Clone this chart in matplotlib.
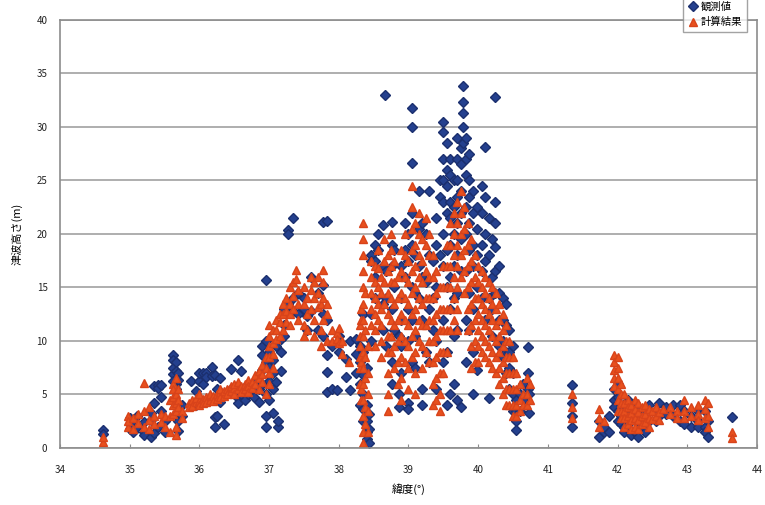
import matplotlib
matplotlib.use("Agg")
import matplotlib.pyplot as plt
import numpy as np

plt.rcParams["font.family"] = ["Noto Sans CJK JP", "DejaVu Sans"]

# observed run-up heights: (latitude, [heights in m]) per survey column
obs_south = [
    (34.62, [1.7, 1.3]), (35.00, [2.8, 2.2, 1.8]), (35.05, [2.5, 1.5]),
    (35.10, [2.0, 3.0]), (35.20, [1.5, 2.4, 1.2]), (35.30, [2.6, 1.0, 3.3]),
    (35.35, [5.8, 4.2, 1.4]), (35.40, [5.9, 5.6, 2.0]), (35.45, [5.9, 4.8, 3.5]),
    (35.50, [2.5, 1.5]), (35.62, [8.7, 8.2, 7.5, 6.9, 6.3]),
    (35.66, [8.0, 7.2, 6.0, 5.5]), (35.70, [7.0, 6.4, 2.5, 1.6]),
    (35.75, [4.0, 3.0]), (35.88, [6.3]), (35.95, [5.3, 4.0]),
    (36.00, [6.3, 7.0]), (36.05, [7.0, 6.0]), (36.10, [7.0, 6.6]),
    (36.18, [7.6, 6.7]), (36.22, [6.8, 2.9, 2.0]), (36.25, [5.5, 3.0]),
    (36.30, [6.5, 4.3]), (36.35, [2.2, 5.0]), (36.45, [7.4, 5.5]),
    (36.55, [8.2, 4.7, 4.2]), (36.60, [5.0, 7.2]), (36.65, [4.5]),
    (36.70, [5.0, 6.0]), (36.78, [4.8, 6.2]), (36.85, [6.8, 5.5, 4.3]),
    (36.90, [9.5, 8.7, 7.3, 6.0]), (36.95, [15.7, 10.0, 8.0, 5.0, 3.0, 2.0]),
    (37.00, [9.0, 7.6, 6.3, 4.5]), (37.05, [8.2, 7.0, 5.5, 3.3]),
    (37.10, [9.5, 6.2]), (37.13, [2.0, 2.5]), (37.17, [10.2, 9.0, 7.2]),
    (37.22, [13.0, 11.5, 10.5]), (37.27, [20.4, 20.0, 13.5]),
    (37.35, [21.5, 14.0, 12.8]), (37.42, [14.5, 12.5]), (37.50, [14.0, 13.0]),
    (37.55, [12.3, 11.0]), (37.60, [12.8, 16.0]), (37.70, [14.5, 11.0]),
    (37.78, [21.1, 15.2, 12.5, 10.5]), (37.83, [21.2, 12.0, 8.7, 7.1, 5.2]),
    (37.90, [9.5, 5.5]),
]

obs_miyagi = [
    (37.97, [5.4]), (38.00, [10.5, 9.0]), (38.10, [8.3, 6.6]),
    (38.16, [5.4, 10.0]), (38.25, [10.2, 8.8, 7.0]), (38.30, [9.5, 8.0, 6.0, 4.0]),
    (38.35, [12.5, 9.0, 6.8, 5.0, 3.6, 2.5]), (38.40, [7.5, 4.0, 2.5, 1.5, 0.8]),
    (38.43, [3.2, 1.8, 0.5]), (38.47, [18.0, 17.5, 12.5, 10.0]),
    (38.52, [19.0, 17.5, 16.0, 14.0]), (38.56, [18.5, 20.0]),
    (38.63, [20.8, 17.0, 13.5, 11.0]), (38.66, [33.0]), (38.68, [16.5, 14.0, 9.5]),
    (38.76, [21.1, 19.0, 17.0, 13.0, 8.0, 6.0]), (38.80, [18.5, 15.0, 11.0]),
    (38.86, [10.5, 5.0, 3.8]), (38.90, [17.0, 14.0, 12.0, 9.5, 7.0]),
    (38.95, [21.0, 18.5, 16.0]), (39.00, [20.0, 17.5, 13.0, 10.0, 4.2, 3.6]),
    (39.05, [31.8, 30.0, 26.6, 22.0, 19.0, 15.0, 12.0, 8.0]),
    (39.10, [18.0, 14.5, 10.5, 7.5]), (39.15, [24.0, 20.5, 17.0, 14.0]),
    (39.20, [21.0, 16.0, 12.0, 5.5, 4.0]), (39.25, [20.0, 15.5, 9.0]),
    (39.30, [24.0, 18.0, 13.0, 8.0]),
]

obs_iwate = [
    (39.35, [17.5, 14.0, 11.0]), (39.40, [21.5, 19.0, 15.0, 10.0, 5.5]),
    (39.45, [25.0, 23.5, 18.0]),
    (39.50, [30.5, 29.5, 27.0, 25.0, 23.0, 20.0, 17.0, 12.0, 8.0]),
    (39.55, [28.5, 26.0, 24.5, 22.0, 18.5, 15.0, 9.0, 4.0]),
    (39.60, [27.0, 25.5, 23.0, 21.5, 19.0, 16.0, 13.0, 5.0]),
    (39.65, [25.0, 22.5, 20.0, 17.0, 14.0, 10.5, 6.0]),
    (39.70, [29.0, 27.0, 25.0, 23.5, 21.0, 18.0, 14.5, 11.0, 4.5]),
    (39.75, [28.0, 26.5, 24.0, 22.0, 19.5, 16.5, 3.8]),
    (39.78, [33.8, 32.3, 31.3, 30.0, 28.5]),
    (39.82, [29.0, 27.0, 25.5, 22.5, 20.0, 16.5, 12.0, 8.0]),
    (39.87, [27.5, 25.0, 23.5, 21.0, 18.5, 14.5, 11.0]),
    (39.92, [24.0, 22.0, 19.0, 17.0, 13.0, 9.0, 5.0]),
    (39.99, [22.5, 20.5, 18.0, 15.0, 7.3]), (40.05, [24.5, 22.0, 19.0, 16.5, 14.0]),
    (40.10, [28.1, 23.5, 20.0, 17.5, 12.0]), (40.15, [21.5, 18.0, 14.0, 4.7]),
    (40.20, [19.5, 16.0, 13.0, 10.5]), (40.24, [32.8, 23.0, 21.0, 18.8, 16.5, 14.5]),
    (40.30, [17.0, 14.5, 12.0, 9.5]), (40.35, [14.0, 12.0, 10.0, 8.5]),
    (40.40, [13.5, 11.5, 9.0, 7.0]), (40.45, [11.0, 9.0, 7.5, 5.5]),
    (40.50, [9.5, 7.0, 5.0, 3.5]), (40.55, [4.5, 3.5, 2.5, 1.7]),
    (40.60, [5.0, 3.5]), (40.65, [6.0, 4.5]), (40.71, [9.4, 7.0, 5.5]),
    (40.73, [3.3, 5.0]),
]

obs_north = [
    (41.35, [5.9, 4.2, 3.0, 2.0]), (41.74, [1.0, 2.5]), (41.80, [1.5, 2.0]),
    (41.88, [1.5, 3.0]), (41.95, [5.5, 4.5, 3.8]), (42.00, [4.8, 3.5, 2.5, 6.0]),
    (42.05, [4.0, 3.0, 2.2]), (42.10, [3.5, 2.0, 1.5]), (42.15, [4.5, 3.0, 1.8]),
    (42.20, [3.8, 2.5, 1.2]), (42.25, [3.0, 1.5, 4.2]), (42.30, [2.5, 1.0, 3.5]),
    (42.35, [3.0, 2.0]), (42.40, [3.5, 2.8, 1.5]), (42.45, [4.0, 2.5]),
    (42.55, [3.5, 2.5]), (42.60, [4.2, 3.0]), (42.70, [3.8, 3.2]),
    (42.80, [4.0, 3.0]), (42.90, [4.0, 2.5]), (42.95, [3.5, 2.2]),
    (43.05, [3.0, 2.0]), (43.15, [3.5, 2.5, 2.0]), (43.25, [3.5, 2.0, 1.5]),
    (43.30, [2.5, 1.0]), (43.65, [2.9]),
]

# computed tsunami heights
calc_south = [
    (34.62, [0.6, 1.0]), (34.98, [2.0, 3.0, 2.5]), (35.05, [1.8, 2.8]),
    (35.12, [3.2, 2.3]), (35.20, [6.1, 3.5, 2.0]), (35.28, [2.6, 3.8, 1.8]),
    (35.35, [3.0, 2.2]), (35.45, [3.2, 2.4]), (35.50, [2.0, 3.0]),
    (35.58, [4.5, 3.0, 1.5]), (35.62, [6.0, 5.5, 4.8, 4.0, 3.2]),
    (35.66, [6.5, 5.0, 4.2, 3.5, 2.0, 1.2]), (35.70, [5.5, 4.5, 3.8]),
    (35.75, [3.5, 2.8]), (35.85, [4.2, 3.8]), (35.90, [4.5, 3.9]),
    (35.95, [4.3, 4.7]), (36.00, [4.4, 4.0, 5.0]), (36.05, [4.6, 4.2]),
    (36.10, [4.8, 4.3]), (36.15, [4.5, 5.0]), (36.20, [4.9, 4.4]),
    (36.25, [5.0, 4.6]), (36.30, [5.2, 4.8, 5.5]), (36.35, [4.9, 5.3]),
    (36.40, [5.5, 5.0]), (36.45, [5.3, 5.8]), (36.50, [5.6, 5.0, 6.0]),
    (36.55, [5.5, 6.2]), (36.60, [5.8, 5.2]), (36.65, [6.0, 5.5]),
    (36.70, [6.4, 5.8, 5.2]), (36.75, [6.2, 5.6]), (36.80, [6.8, 6.0]),
    (36.85, [7.2, 6.5, 5.5]), (36.90, [7.8, 6.9, 6.2]), (36.95, [8.5, 7.5, 5.0]),
    (37.00, [11.5, 10.5, 9.5, 8.5, 7.0, 6.0]), (37.05, [11.0, 9.8, 8.8, 7.5]),
    (37.10, [12.0, 11.0, 10.2]), (37.15, [12.5, 11.8, 10.5]),
    (37.20, [13.5, 12.5, 11.0]), (37.25, [14.0, 12.8, 11.8]),
    (37.30, [15.0, 13.5, 12.5, 11.5]), (37.35, [15.5, 14.2, 13.0]),
    (37.38, [16.6, 15.8]), (37.42, [14.8, 13.5, 12.0]),
    (37.50, [15.0, 13.5, 11.5, 10.5]), (37.55, [14.0, 12.5, 11.0]),
    (37.60, [16.0, 14.8, 13.0]), (37.65, [15.5, 14.0, 12.0, 10.5]),
    (37.70, [16.0, 14.5, 13.2]), (37.75, [13.5, 11.0, 9.5]),
    (37.78, [16.6, 15.5, 14.0, 12.0]), (37.83, [13.5, 12.5, 10.0]),
    (37.90, [11.0, 10.0]),
]

calc_miyagi = [
    (37.97, [10.7, 10.2]), (38.00, [11.2, 9.8]), (38.05, [10.0, 8.8]),
    (38.15, [8.0]), (38.30, [11.5, 10.5, 9.5, 8.5, 7.5, 6.0]),
    (38.32, [13.0, 12.0, 8.0, 5.5, 4.5]),
    (38.35, [21.0, 19.5, 18.0, 16.5, 15.0, 13.5, 12.0, 10.5, 9.0, 7.5, 6.0,
             4.5, 3.0, 1.5, 0.5]),
    (38.38, [14.5, 11.0, 8.5, 6.5, 3.8, 2.2]), (38.42, [9.5, 7.0, 5.0, 3.5, 1.5]),
    (38.47, [17.5, 16.0, 14.5, 13.0, 11.5]),
    (38.52, [17.0, 15.5, 14.0, 12.5, 11.0, 9.5]),
    (38.56, [18.5, 16.8, 15.0, 13.5, 12.0]),
    (38.60, [16.0, 14.5, 13.0, 11.5, 10.0, 8.5]),
    (38.65, [19.5, 17.5, 15.5, 13.5]),
    (38.70, [18.0, 16.5, 14.5, 12.5, 10.5, 9.0, 7.0, 5.0, 3.5]),
    (38.75, [20.0, 18.5, 17.0, 15.5, 14.0, 12.0, 10.5, 9.0]),
    (38.80, [17.5, 15.5, 13.5, 11.5, 9.5, 7.5]),
    (38.85, [16.0, 14.0, 12.0, 10.0, 8.0, 6.0]),
    (38.90, [18.5, 16.5, 14.5, 12.5, 10.5, 8.5, 6.5, 4.5]),
    (38.95, [20.0, 18.0, 16.0, 14.0, 12.0, 10.0, 8.0]),
    (39.00, [17.5, 15.5, 13.5, 11.5, 9.5, 7.5, 5.5]),
    (39.05, [24.5, 22.5, 20.5, 18.5, 16.5, 14.5, 12.5, 10.5, 8.5]),
    (39.10, [21.0, 19.0, 17.0, 15.0, 13.0, 11.0, 9.0, 7.0, 5.0]),
    (39.15, [22.0, 20.0, 18.0, 16.0, 14.0, 12.0, 10.0]),
    (39.20, [19.5, 17.5, 15.5, 13.5, 11.5, 9.5, 7.5]),
    (39.25, [21.5, 19.0, 16.5, 14.0, 11.5, 9.0]),
    (39.30, [20.0, 18.0, 16.0, 14.0, 12.0, 10.0, 8.0]),
]

calc_iwate = [
    (39.35, [18.0, 16.0, 14.0, 12.0, 10.0, 8.0, 6.0, 4.0]),
    (39.40, [16.5, 14.5, 12.5, 10.5, 8.5, 6.5, 4.5]),
    (39.45, [15.0, 13.0, 11.0, 9.0, 7.0, 5.0, 3.5]),
    (39.50, [17.0, 15.0, 13.0, 11.0, 9.0, 7.0]),
    (39.55, [19.0, 17.0, 15.0, 13.0, 11.0, 9.0]),
    (39.60, [21.0, 19.0, 17.0, 15.0, 13.0, 11.0]),
    (39.65, [22.0, 20.0, 18.0, 16.0, 14.0, 12.0]),
    (39.70, [23.0, 21.0, 19.0, 17.0, 15.0, 13.0, 11.0]),
    (39.75, [24.0, 22.0, 20.0, 18.0, 16.0]),
    (39.80, [22.5, 20.5, 18.5, 16.5, 14.5]),
    (39.85, [21.0, 19.0, 17.0, 15.0, 13.0, 11.0]),
    (39.90, [19.5, 17.5, 15.5, 13.5, 11.5, 9.5, 7.5]),
    (39.95, [18.0, 16.0, 14.0, 12.0, 10.0, 8.0]),
    (40.00, [17.0, 15.5, 14.0, 12.5, 11.0, 9.5, 8.0]),
    (40.05, [16.5, 15.0, 13.5, 12.0, 10.5, 9.0]),
    (40.10, [16.0, 14.5, 13.0, 11.5, 10.0, 8.5]),
    (40.15, [15.5, 14.0, 12.5, 11.0, 9.5, 8.0]),
    (40.20, [15.0, 13.5, 12.0, 10.5, 9.0, 7.5]),
    (40.25, [14.5, 13.0, 11.5, 10.0, 8.5, 7.0]),
    (40.30, [13.5, 12.0, 10.5, 9.0, 7.5, 6.0]),
    (40.35, [12.5, 11.0, 9.5, 8.0, 6.5, 5.0]),
    (40.40, [11.5, 10.0, 8.5, 7.0, 5.5, 4.0]),
    (40.45, [10.0, 8.5, 7.0, 5.5, 4.0]), (40.50, [8.5, 7.0, 5.5, 4.0, 3.0]),
    (40.55, [7.0, 5.5, 4.0, 3.0]), (40.60, [6.0, 4.5, 3.5]),
    (40.65, [5.0, 4.0]), (40.70, [6.5, 5.0, 4.0]), (40.75, [6.0, 4.5]),
]

calc_north = [
    (41.35, [5.0, 3.8, 2.8]), (41.74, [3.6, 2.8, 2.0]), (41.80, [2.5]),
    (41.95, [8.7, 8.0, 7.3, 6.5, 5.8]), (42.00, [8.5, 7.5, 6.5, 5.5, 4.5, 3.5]),
    (42.05, [6.0, 5.0, 4.2, 3.5, 2.8]), (42.10, [5.0, 4.2, 3.5, 2.8, 2.0]),
    (42.15, [4.5, 3.8, 3.0, 2.2]), (42.20, [4.0, 3.3, 2.6, 1.8]),
    (42.25, [4.5, 3.6, 2.8, 2.0]), (42.30, [4.2, 3.4, 2.6, 1.8]),
    (42.35, [3.8, 3.0, 2.2]), (42.40, [4.0, 3.2, 2.4]), (42.45, [3.6, 2.8, 2.0]),
    (42.50, [3.5, 2.7]), (42.55, [3.8, 3.0]), (42.60, [3.4, 2.6]),
    (42.65, [3.6]), (42.75, [3.8, 3.2]), (42.85, [3.5, 2.8]),
    (42.95, [4.5, 3.5, 2.8]), (43.05, [3.8, 3.0]), (43.15, [4.0, 3.2, 2.6]),
    (43.25, [4.5, 3.6, 2.8]), (43.30, [4.2, 3.0, 2.0]), (43.65, [1.5, 0.9]),
]


def flatten(*groups):
    lat, h = [], []
    for group in groups:
        for la, hs in group:
            lat.extend([la] * len(hs))
            h.extend(hs)
    return np.array(lat), np.array(h)


obs_lat, obs_h = flatten(obs_south, obs_miyagi, obs_iwate, obs_north)
calc_lat, calc_h = flatten(calc_south, calc_miyagi, calc_iwate, calc_north)

fig = plt.figure(figsize=(7.65, 5.05), dpi=100)
ax = fig.add_axes([0.0784, 0.1129, 0.911, 0.8475])

ax.plot(obs_lat, obs_h, "D", ms=4.6, color="#24408e", mec="#1b2f6e",
        ls="none", label="観測値")
ax.plot(calc_lat, calc_h, "^", ms=5.8, color="#e8501e", mec="#d8431a",
        ls="none", label="計算結果")

ax.set_xlim(34, 44)
ax.set_ylim(0, 40)
ax.set_xticks(range(34, 45))
ax.set_yticks(range(0, 41, 5))
ax.yaxis.grid(True, color="#a8a8a8", lw=1.3)
ax.set_axisbelow(True)
for s in ax.spines.values():
    s.set_color("#8c8c8c")
    s.set_linewidth(1.2)
ax.tick_params(axis="x", direction="in", length=3, pad=12, labelsize=7,
               color="#8c8c8c", labelcolor="#222222")
ax.tick_params(axis="y", length=0, pad=9, labelsize=7, labelcolor="#222222")
ax.set_xlabel("緯度(°)", fontsize=8, labelpad=6)
ax.set_ylabel("津波高さ(m)", fontsize=8, labelpad=10)

fig.legend(loc="upper left", bbox_to_anchor=(0.893, 1.005), fontsize=7.5,
           frameon=True, fancybox=False, edgecolor="#8c8c8c",
           borderpad=0.4, handletextpad=0.3, handlelength=1.0,
           labelspacing=0.5, borderaxespad=0)

fig.savefig("out.png", dpi=100)
